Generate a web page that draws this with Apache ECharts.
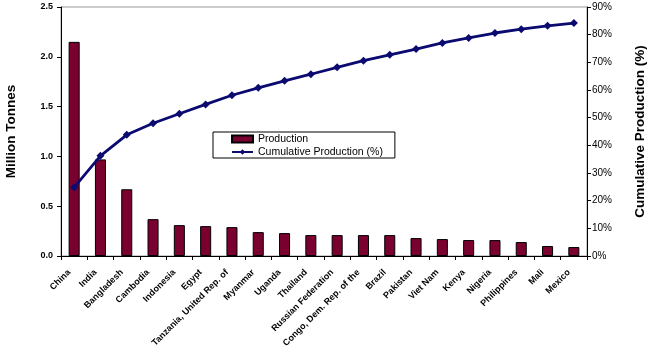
<!DOCTYPE html>
<html><head><meta charset="utf-8">
<script src="https://cdn.jsdelivr.net/npm/echarts@6/dist/echarts.min.js"></script>
<style>html,body{margin:0;padding:0;background:#fff}#c{width:650px;height:353px}</style>
</head><body><div id="c"></div>
<script>
var categories = ["China","India","Bangladesh","Cambodia","Indonesia","Egypt","Tanzania, United Rep. of","Myanmar","Uganda","Thailand","Russian Federation","Congo, Dem. Rep. of the","Brazil","Pakistan","Viet Nam","Kenya","Nigeria","Philippines","Mali","Mexico"];
var production = [2.15,0.97,0.67,0.37,0.31,0.30,0.29,0.24,0.23,0.21,0.21,0.21,0.21,0.18,0.17,0.16,0.16,0.14,0.10,0.09];
var cumulative = [24.8,36.2,43.8,48.0,51.4,54.8,58.1,60.8,63.3,65.7,68.2,70.6,72.7,74.8,77.0,78.8,80.6,82.0,83.2,84.2];
var leftTicks = {min:0,max:2.5,interval:0.5};
var rightTicks = {min:0,max:90,interval:10};

var chart = echarts.init(document.getElementById('c'), null, {renderer:'canvas'});
var font = 'Arial, "Liberation Sans", sans-serif';
chart.setOption({
  animation:false,
  grid:{left:61,right:63,top:7,bottom:97,show:true,borderColor:'#999',borderWidth:1,containLabel:false,outerBoundsMode:'none'},
  legend:{
    orient:'vertical',left:213,top:132,
    backgroundColor:'#fff',borderColor:'#000',borderWidth:1,borderRadius:0,
    padding:[1,12,0,18],itemGap:1,itemWidth:21,itemHeight:7,
    textStyle:{fontFamily:font,fontSize:10.5,color:'#000',lineHeight:12},
    data:[{name:'Production',icon:'rect'},{name:'Cumulative Production (%)'}]
  },
  xAxis:{
    type:'category',data:categories,
    axisLine:{lineStyle:{color:'#000',width:1}},
    axisTick:{show:true,length:4,lineStyle:{color:'#000'}},
    axisLabel:{interval:0,rotate:45,fontFamily:font,fontSize:9,fontWeight:'bold',color:'#000',margin:10,padding:[0,7,0,0]}
  },
  yAxis:[{
    type:'value',min:leftTicks.min,max:leftTicks.max,interval:leftTicks.interval,
    name:'Million Tonnes',nameLocation:'middle',nameGap:43,nameRotate:90,
    nameTextStyle:{fontFamily:font,fontSize:13.5,fontWeight:'bold',color:'#000'},
    axisLine:{show:true,lineStyle:{color:'#000'}},
    axisTick:{show:true,length:4,lineStyle:{color:'#000'}},
    splitLine:{show:false},
    axisLabel:{fontFamily:font,fontSize:9,fontWeight:'bold',color:'#000',margin:8,formatter:function(v){return v.toFixed(1);}}
  },{
    type:'value',min:rightTicks.min,max:rightTicks.max,interval:rightTicks.interval,position:'right',
    name:'Cumulative Production (%)',nameLocation:'middle',nameGap:46,nameRotate:90,
    nameTextStyle:{fontFamily:font,fontSize:13.5,fontWeight:'bold',color:'#000'},
    axisLine:{show:true,lineStyle:{color:'#000'}},
    axisTick:{show:true,length:4,lineStyle:{color:'#000'}},
    splitLine:{show:false},
    axisLabel:{fontFamily:font,fontSize:10,color:'#000',margin:5,formatter:'{value}%'}
  }],
  series:[{
    name:'Production',type:'bar',data:production,yAxisIndex:0,barWidth:'42%',
    itemStyle:{color:'#7a0030',borderColor:'#000',borderWidth:1}
  },{
    name:'Cumulative Production (%)',type:'line',data:cumulative,yAxisIndex:1,
    symbol:'diamond',symbolSize:8,
    lineStyle:{color:'#0a0a70',width:2.8},
    itemStyle:{color:'#0a0a70'}
  }]
});
</script></body></html>
